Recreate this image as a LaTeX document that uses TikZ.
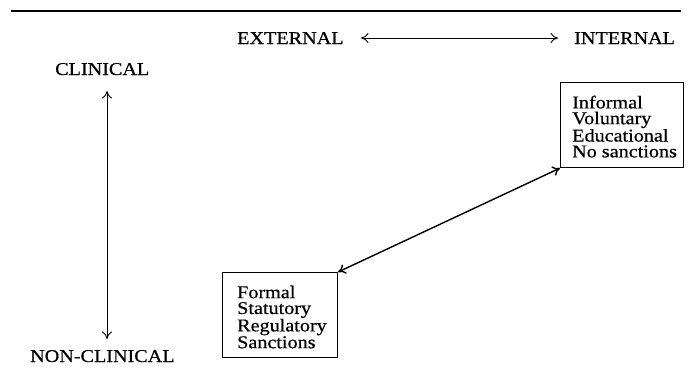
\documentclass[tikz,border=0pt]{standalone}
\usepackage{fontspec}
\setmainfont[FakeStretch=1.12,FakeBold=0.6]{Liberation Serif}
\usetikzlibrary{arrows.meta}
\begin{document}
\begin{tikzpicture}[x=1pt,y=-1pt,
  lbl/.style={inner sep=0pt,font=\fontsize{18}{15.8}\selectfont},
  boxtext/.style={inner sep=0pt,align=left,font=\fontsize{18}{15.8}\selectfont},
  frame/.style={draw,line width=1.1pt,inner sep=0pt},
  conn/.style={line width=0.9pt,{To[length=7.5pt,width=10pt]}-{To[length=7.5pt,width=10pt]}}]
\useasboundingbox (0,0) rectangle (694,380);
% top rule
\coordinate (r1) at (11,11);
\coordinate (r2) at (681,11);
\draw[line width=1.8pt] (r1) -- (r2);
% labels
\node[lbl,anchor=base west] (ext) at (237,44) {EXTERNAL};
\node[lbl,anchor=base west] (int) at (574,44) {INTERNAL};
\node[lbl,anchor=base west] (cli) at (55,75) {CLINICAL};
\node[lbl,anchor=base west] (ncl) at (30,362) {NON-CLINICAL};
% boxes
\node[frame,minimum width=123pt,minimum height=85pt,anchor=north west] (inf) at (560,82) {};
\node[boxtext,anchor=north west] (inft) at (572,95.5) {Informal\\Voluntary\\Educational\\No sanctions};
\node[frame,minimum width=115pt,minimum height=85pt,anchor=north west] (frm) at (222,272) {};
\node[boxtext,anchor=north west] (frmt) at (237,285.5) {Formal\\Statutory\\Regulatory\\Sanctions};
% arrows
\coordinate (h1) at (361,38);
\coordinate (h2) at (558,38);
\draw[conn] (h1) -- (h2);
\coordinate (v1) at (107,91);
\coordinate (v2) at (107,339);
\draw[conn] (v1) -- (v2);
\draw[conn,line width=1.4pt] (frm.north east) -- (inf.south west);
\end{tikzpicture}
\end{document}
